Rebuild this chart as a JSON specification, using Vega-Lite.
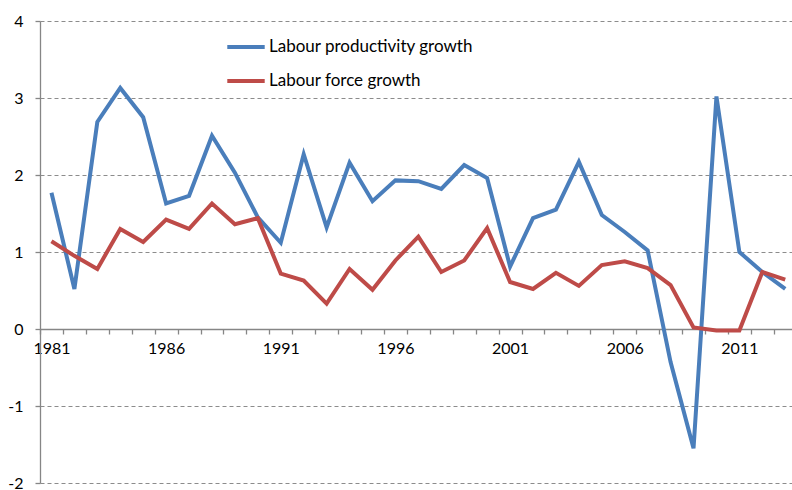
{
  "$schema": "https://vega.github.io/schema/vega-lite/v6.json",
  "width": 752,
  "height": 462,
  "autosize": "none",
  "padding": {"left": 40, "top": 21, "right": 0, "bottom": 7},
  "background": "white",
  "config": {
    "view": {"stroke": null},
    "font": "Lato",
    "axis": {"labelFont": "Lato", "labelFontSize": 16, "labelColor": "#000000", "domainColor": "#868686", "tickColor": "#868686", "domainWidth": 1.3, "tickWidth": 1.3}
  },
  "datasets": {
    "growth": [
      {"year": 1981, "series": "Labour productivity growth", "value": 1.77},
      {"year": 1982, "series": "Labour productivity growth", "value": 0.52},
      {"year": 1983, "series": "Labour productivity growth", "value": 2.69},
      {"year": 1984, "series": "Labour productivity growth", "value": 3.13},
      {"year": 1985, "series": "Labour productivity growth", "value": 2.75},
      {"year": 1986, "series": "Labour productivity growth", "value": 1.63},
      {"year": 1987, "series": "Labour productivity growth", "value": 1.73},
      {"year": 1988, "series": "Labour productivity growth", "value": 2.51},
      {"year": 1989, "series": "Labour productivity growth", "value": 2.03},
      {"year": 1990, "series": "Labour productivity growth", "value": 1.45},
      {"year": 1991, "series": "Labour productivity growth", "value": 1.12},
      {"year": 1992, "series": "Labour productivity growth", "value": 2.27},
      {"year": 1993, "series": "Labour productivity growth", "value": 1.32},
      {"year": 1994, "series": "Labour productivity growth", "value": 2.16},
      {"year": 1995, "series": "Labour productivity growth", "value": 1.66},
      {"year": 1996, "series": "Labour productivity growth", "value": 1.93},
      {"year": 1997, "series": "Labour productivity growth", "value": 1.92},
      {"year": 1998, "series": "Labour productivity growth", "value": 1.82},
      {"year": 1999, "series": "Labour productivity growth", "value": 2.13},
      {"year": 2000, "series": "Labour productivity growth", "value": 1.96},
      {"year": 2001, "series": "Labour productivity growth", "value": 0.81},
      {"year": 2002, "series": "Labour productivity growth", "value": 1.44},
      {"year": 2003, "series": "Labour productivity growth", "value": 1.55},
      {"year": 2004, "series": "Labour productivity growth", "value": 2.17},
      {"year": 2005, "series": "Labour productivity growth", "value": 1.48},
      {"year": 2006, "series": "Labour productivity growth", "value": 1.26},
      {"year": 2007, "series": "Labour productivity growth", "value": 1.02},
      {"year": 2008, "series": "Labour productivity growth", "value": -0.43},
      {"year": 2009, "series": "Labour productivity growth", "value": -1.55},
      {"year": 2010, "series": "Labour productivity growth", "value": 3.02},
      {"year": 2011, "series": "Labour productivity growth", "value": 1.0},
      {"year": 2012, "series": "Labour productivity growth", "value": 0.74},
      {"year": 2013, "series": "Labour productivity growth", "value": 0.52},
      {"year": 1981, "series": "Labour force growth", "value": 1.14},
      {"year": 1982, "series": "Labour force growth", "value": 0.95},
      {"year": 1983, "series": "Labour force growth", "value": 0.78},
      {"year": 1984, "series": "Labour force growth", "value": 1.30},
      {"year": 1985, "series": "Labour force growth", "value": 1.13},
      {"year": 1986, "series": "Labour force growth", "value": 1.42},
      {"year": 1987, "series": "Labour force growth", "value": 1.30},
      {"year": 1988, "series": "Labour force growth", "value": 1.63},
      {"year": 1989, "series": "Labour force growth", "value": 1.36},
      {"year": 1990, "series": "Labour force growth", "value": 1.44},
      {"year": 1991, "series": "Labour force growth", "value": 0.72},
      {"year": 1992, "series": "Labour force growth", "value": 0.63},
      {"year": 1993, "series": "Labour force growth", "value": 0.33},
      {"year": 1994, "series": "Labour force growth", "value": 0.78},
      {"year": 1995, "series": "Labour force growth", "value": 0.51},
      {"year": 1996, "series": "Labour force growth", "value": 0.89},
      {"year": 1997, "series": "Labour force growth", "value": 1.20},
      {"year": 1998, "series": "Labour force growth", "value": 0.74},
      {"year": 1999, "series": "Labour force growth", "value": 0.89},
      {"year": 2000, "series": "Labour force growth", "value": 1.31},
      {"year": 2001, "series": "Labour force growth", "value": 0.61},
      {"year": 2002, "series": "Labour force growth", "value": 0.52},
      {"year": 2003, "series": "Labour force growth", "value": 0.73},
      {"year": 2004, "series": "Labour force growth", "value": 0.56},
      {"year": 2005, "series": "Labour force growth", "value": 0.83},
      {"year": 2006, "series": "Labour force growth", "value": 0.88},
      {"year": 2007, "series": "Labour force growth", "value": 0.79},
      {"year": 2008, "series": "Labour force growth", "value": 0.57},
      {"year": 2009, "series": "Labour force growth", "value": 0.02},
      {"year": 2010, "series": "Labour force growth", "value": -0.02},
      {"year": 2011, "series": "Labour force growth", "value": -0.02},
      {"year": 2012, "series": "Labour force growth", "value": 0.74},
      {"year": 2013, "series": "Labour force growth", "value": 0.64}
    ]
  },
  "data": {"name": "growth"},
  "mark": {"type": "line", "strokeWidth": 4, "clip": false},
  "encoding": {
    "x": {
      "field": "year",
      "type": "quantitative",
      "scale": {"domain": [1980.5, 2013.295], "nice": false, "zero": false},
      "axis": {
        "title": null,
        "offset": -154,
        "grid": false,
        "values": [1980.5, 1981.5, 1982.5, 1983.5, 1984.5, 1985.5, 1986.5, 1987.5, 1988.5, 1989.5, 1990.5, 1991.5, 1992.5, 1993.5, 1994.5, 1995.5, 1996.5, 1997.5, 1998.5, 1999.5, 2000.5, 2001.5, 2002.5, 2003.5, 2004.5, 2005.5, 2006.5, 2007.5, 2008.5, 2009.5, 2010.5, 2011.5, 2012.5],
        "labelExpr": "(datum.value - 1980.5) % 5 == 0 ? format(datum.value + 0.5, 'd') : ''",
        "labelOffset": 11.47,
        "labelOverlap": false,
        "labelBound": false,
        "labelFlush": false,
        "tickSize": 5,
        "labelPadding": 6
      }
    },
    "y": {
      "field": "value",
      "type": "quantitative",
      "scale": {"domain": [-2, 4], "nice": false},
      "axis": {
        "title": null,
        "values": [-2, -1, 0, 1, 2, 3, 4],
        "labelExpr": "'' + datum.value",
        "grid": true,
        "gridDash": [4, 3],
        "gridColor": "#8c8c8c",
        "gridWidth": 1,
        "tickSize": 5,
        "labelPadding": 12
      }
    },
    "color": {
      "field": "series",
      "type": "nominal",
      "scale": {"domain": ["Labour productivity growth", "Labour force growth"], "range": ["#4a7ebb", "#be4b48"]},
      "legend": {
        "title": null,
        "orient": "none",
        "legendX": 185,
        "legendY": 5,
        "symbolType": "stroke",
        "symbolSize": 1400,
        "symbolStrokeWidth": 4,
        "labelFont": "Lato",
        "labelFontSize": 17,
        "labelColor": "#000000",
        "labelOffset": 2,
        "rowPadding": 5,
        "labelLimit": 400
      }
    }
  }
}
